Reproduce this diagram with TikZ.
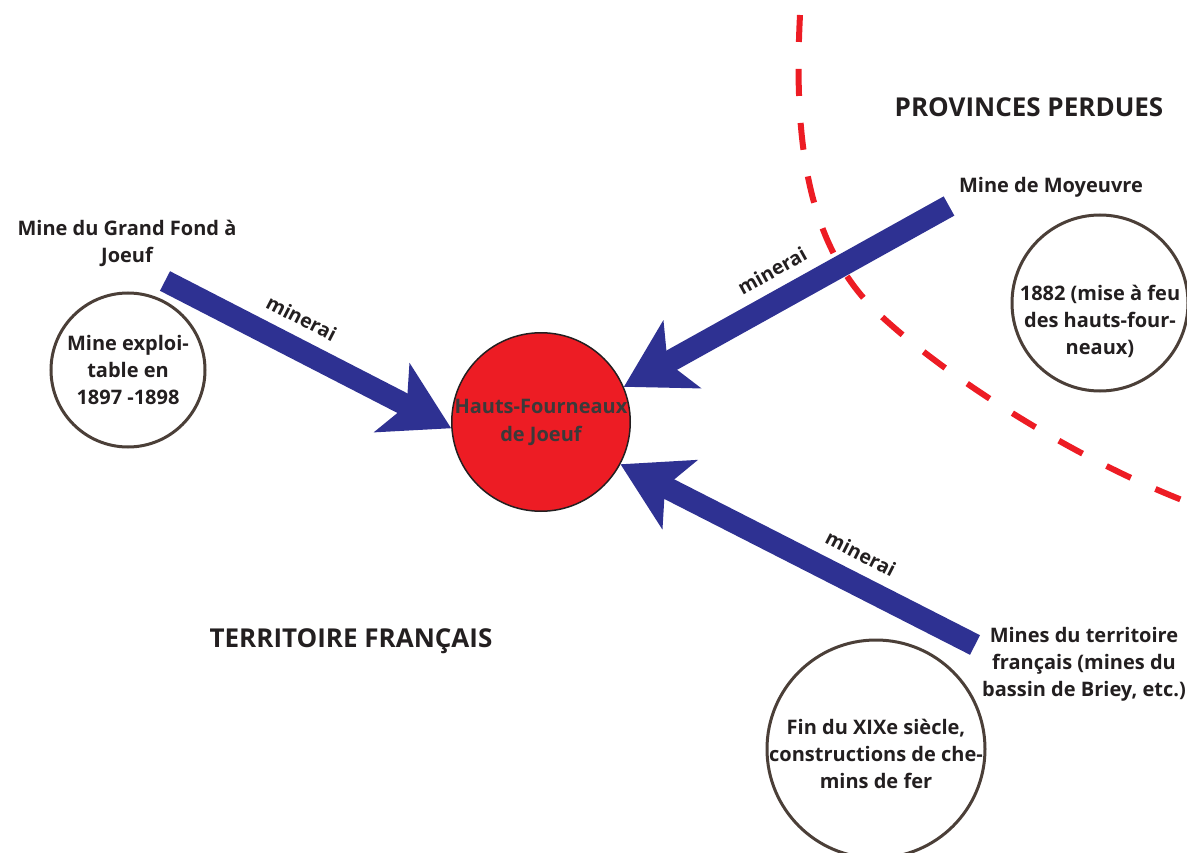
\documentclass[tikz,border=0pt]{standalone}
\usepackage{fontspec}
\setmainfont{Open Sans}
\usetikzlibrary{arrows.meta}
\definecolor{ink}{HTML}{231F20}
\definecolor{hubtxt}{HTML}{3A3A3A}
\definecolor{blu}{HTML}{2E3192}
\definecolor{rd}{HTML}{ED1C24}
\definecolor{bub}{HTML}{4B3F38}
\begin{document}
\begin{tikzpicture}[x=1pt,y=-1pt,
  txt/.style={font=\bfseries\fontsize{20}{27}\selectfont, text=ink, align=center, inner sep=0pt},
  big/.style={font=\bfseries\fontsize{26}{30}\selectfont, text=ink, inner sep=0pt},
  bubble/.style={circle, draw=bub, line width=3pt, fill=white, inner sep=0pt},
  hubstyle/.style={circle, draw=ink, line width=1.5pt, fill=rd, inner sep=0pt, align=center,
     text=hubtxt, font=\bfseries\fontsize{20}{28}\selectfont},
  flow/.style={draw=blu, line width=22pt, line cap=butt,
     -{Stealth[length=66pt, width=76pt, inset=16pt]}},
  lab/.style={font=\bfseries\fontsize{19.5}{20}\selectfont, text=ink, inner sep=0pt, sloped, above=11pt},
  border/.style={draw=rd, line width=6pt, dash pattern=on 27pt off 27pt}]
\useasboundingbox (0,0) rectangle (1187,853);

% frontier
\draw[border] (800,15) .. controls (793,150) and (810,250) .. (880,315)
   .. controls (950,380) and (1080,462) .. (1195,505);

% central node
\node[hubstyle, minimum size=172pt] (hub) at (541,422) {Hauts-Fourneaux\\de Joeuf};

% start points of the flows
\coordinate (s1) at (165,281);
\coordinate (s2) at (949,206);
\coordinate (s3) at (975,645);

\draw[flow] (s1) -- (hub.184) node[lab, pos=0.43] (m1) {minerai};
\draw[flow] (s2) -- (hub.23) node[lab, pos=0.5] (m2) {minerai};
\draw[flow] (s3) -- (hub.-28) node[lab, pos=0.36] (m3) {minerai};

% circles
\node[bubble, minimum size=154pt] (c1) at (128,370) {};
\node[txt] (c1t) at (128,370) {Mine exploi-\\table en\\1897 -1898};
\node[bubble, minimum size=176pt] (c2) at (1100,303) {};
\node[txt] (c2t) at (1100,321) {1882 (mise à feu\\des hauts-four-\\neaux)};
\node[bubble, minimum size=218pt] (c3) at (876,749) {};
\node[txt] (c3t) at (876,754) {Fin du XIXe siècle,\\constructions de che-\\mins de fer};

% labels
\node[txt] (grandfond) at (127,243) {Mine du Grand Fond à\\Joeuf};
\node[txt] (moyeuvre) at (1051,187) {Mine de Moyeuvre};
\node[txt] (briey) at (1084,664) {Mines du territoire\\français (mines du\\bassin de Briey, etc.)};
\node[big] (perdues) at (1029,107) {PROVINCES PERDUES};
\node[big] (francais) at (351,641) {TERRITOIRE FRANÇAIS};
\end{tikzpicture}
\end{document}
